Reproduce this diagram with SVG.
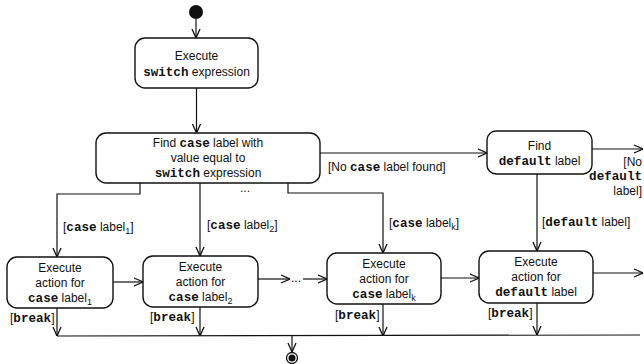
<svg xmlns="http://www.w3.org/2000/svg" width="644" height="364" viewBox="0 0 644 364">
  <style>
    .node { fill: #fff; stroke: #111; stroke-width: 1.4; }
    .edge { fill: none; stroke: #111; stroke-width: 1.2; marker-end: url(#arrow); }
    .line { fill: none; stroke: #111; stroke-width: 1.2; }
    text { font-family: "Liberation Sans", Arial, sans-serif; font-size: 12px; fill: #111; }
    .c { text-anchor: middle; }
    .kw { font-family: "Liberation Mono", "DejaVu Sans Mono", monospace; font-weight: bold; font-size: 12.6px; }
    .sub { font-size: 9px; }
  </style>
  <defs>
    <marker id="arrow" viewBox="0 0 10 10" refX="10" refY="5" markerWidth="10" markerHeight="10" markerUnits="userSpaceOnUse" orient="auto">
      <path d="M1,1 L10,5 L1,9" fill="none" stroke="#111" stroke-width="1.3"/>
    </marker>
  </defs>

  <!-- initial node -->
  <g id="start">
    <circle cx="196" cy="12" r="7" fill="#111"/>
  </g>

  <g id="exec-switch">
    <rect class="node" x="135" y="38" width="123" height="50" rx="10"/>
    <text class="c" x="196.5" y="60">Execute</text>
    <text class="c" x="196.5" y="76"><tspan class="kw">switch</tspan> expression</text>
  </g>

  <g id="find-case">
    <rect class="node" x="96" y="133" width="224" height="50" rx="10"/>
    <text class="c" x="208" y="147">Find <tspan class="kw">case</tspan> label with</text>
    <text class="c" x="208" y="162">value equal to</text>
    <text class="c" x="208" y="177"><tspan class="kw">switch</tspan> expression</text>
  </g>

  <g id="find-default">
    <rect class="node" x="487" y="131" width="105" height="43" rx="9"/>
    <text class="c" x="539.5" y="150">Find</text>
    <text class="c" x="539.5" y="165"><tspan class="kw">default</tspan> label</text>
  </g>

  <g id="action-1">
    <rect class="node" x="7" y="257" width="106" height="51" rx="10"/>
    <text class="c" x="60" y="272">Execute</text>
    <text class="c" x="60" y="287">action for</text>
    <text class="c" x="60" y="302"><tspan class="kw">case</tspan> label<tspan class="sub" dy="3">1</tspan></text>
  </g>

  <g id="action-2">
    <rect class="node" x="143" y="256" width="115" height="51" rx="10"/>
    <text class="c" x="200.5" y="271">Execute</text>
    <text class="c" x="200.5" y="286">action for</text>
    <text class="c" x="200.5" y="301"><tspan class="kw">case</tspan> label<tspan class="sub" dy="3">2</tspan></text>
  </g>

  <g id="action-k">
    <rect class="node" x="327" y="253" width="114" height="51" rx="10"/>
    <text class="c" x="384" y="268">Execute</text>
    <text class="c" x="384" y="283">action for</text>
    <text class="c" x="384" y="298"><tspan class="kw">case</tspan> label<tspan class="sub" dy="3">k</tspan></text>
  </g>

  <g id="action-default">
    <rect class="node" x="479" y="251" width="114" height="52" rx="10"/>
    <text class="c" x="536" y="266">Execute</text>
    <text class="c" x="536" y="281">action for</text>
    <text class="c" x="536" y="296"><tspan class="kw">default</tspan> label</text>
  </g>

  <!-- final node -->
  <g id="end">
    <circle cx="292" cy="358" r="5.5" fill="#fff" stroke="#111" stroke-width="1.3"/>
    <circle cx="292" cy="358" r="3.5" fill="#111"/>
  </g>

  <g id="connectors">
    <path class="edge" d="M196,19 L196,38"/>
    <path class="edge" d="M196.5,88 L196.5,133"/>
    <path class="edge" d="M320,153 L487,153"/>
    <path class="edge" d="M592,149 L643,149"/>

    <path class="edge" d="M140,183 L140,194 L57,194 L57,257"/>
    <path class="edge" d="M200,183 L200,256"/>
    <path class="edge" d="M288,183 L288,193 L383,193 L383,253"/>
    <path class="edge" d="M537,174 L537,251"/>

    <path class="edge" d="M113,282 L143,282"/>
    <path class="edge" d="M258,279 L290,279"/>
    <path class="edge" d="M303,279 L327,279"/>
    <path class="edge" d="M441,278 L479,278"/>
    <path class="edge" d="M593,273 L643,273"/>

    <path class="edge" d="M57,308 L57,336"/>
    <path class="edge" d="M200,307 L200,336"/>
    <path class="edge" d="M383,304 L383,336"/>
    <path class="edge" d="M537,303 L537,335"/>
    <path class="line" d="M57,336 L640,335"/>
    <path class="edge" d="M292,336 L292,352"/>
  </g>

  <!-- guard labels -->
  <g id="labels">
    <text x="328" y="171">[No <tspan class="kw">case</tspan> label found]</text>
    <text x="642" y="166" text-anchor="end">[No</text>
    <text x="642" y="180" text-anchor="end" class="kw">default</text>
    <text x="642" y="195" text-anchor="end">label]</text>
    <text x="240" y="192">...</text>
    <text x="291" y="282">...</text>
    <text x="63" y="231">[<tspan class="kw">case</tspan> label<tspan class="sub" dy="3">1</tspan><tspan dy="-3">]</tspan></text>
    <text x="207" y="229">[<tspan class="kw">case</tspan> label<tspan class="sub" dy="3">2</tspan><tspan dy="-3">]</tspan></text>
    <text x="389" y="227">[<tspan class="kw">case</tspan> label<tspan class="sub" dy="3">k</tspan><tspan dy="-3">]</tspan></text>
    <text x="542" y="226">[<tspan class="kw">default</tspan> label]</text>
    <text x="10" y="322">[<tspan class="kw">break</tspan>]</text>
    <text x="150" y="321">[<tspan class="kw">break</tspan>]</text>
    <text x="335" y="319">[<tspan class="kw">break</tspan>]</text>
    <text x="488" y="317">[<tspan class="kw">break</tspan>]</text>
  </g>
</svg>
